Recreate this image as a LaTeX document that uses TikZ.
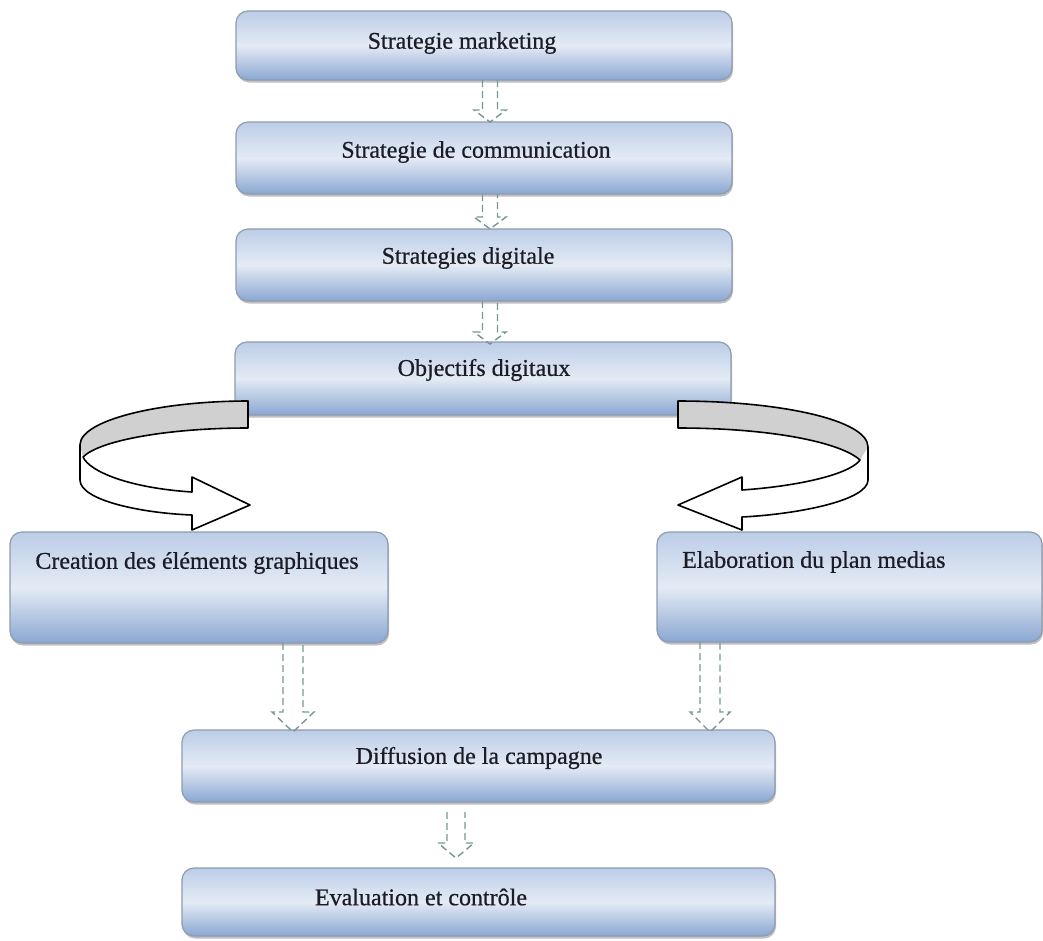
\documentclass[tikz,border=0pt]{standalone}
\usepackage{fontspec}
\setmainfont{Liberation Serif}
\newfontfamily\lblfont[FakeBold=0.6]{Liberation Serif}
\usetikzlibrary{calc,shadows}
\definecolor{boxtop}{HTML}{BCCDE7}
\definecolor{boxmid}{HTML}{E4EBF5}
\definecolor{boxbot}{HTML}{8AA7D2}
\definecolor{boxline}{HTML}{8E9BB0}
\definecolor{arrowcol}{HTML}{769893}
\definecolor{bandgray}{HTML}{D0D0D0}
\definecolor{txtcol}{HTML}{1C1C26}
\tikzset{
  box/.style={rectangle, rounded corners=12pt, draw=boxline, line width=1.2pt,
    top color=boxtop, bottom color=boxbot, middle color=boxmid,
    inner sep=0pt, outer sep=0pt,
    drop shadow={shadow xshift=1pt, shadow yshift=-2.5pt, fill=black!45, opacity=0.55}},
  lbl/.style={font=\lblfont\fontsize{24}{28}\selectfont, text=txtcol, inner sep=0pt},
  darrow/.style={draw=arrowcol, dash pattern=on 7pt off 4pt, line width=1.4pt, line join=miter},
  curvarrow/.style={draw=black, line width=1.6pt, line join=round},
}
\newcommand\hollowarrow[5]{%
  \draw[darrow] let \p1=#1, \p2=#2 in
    (\x1-#3,\y1) -- (\x1-#3,\y2+#5) -- (\x1-#4,\y2+#5) -- (\x1,\y2)
    -- (\x1+#4,\y2+#5) -- (\x1+#3,\y2+#5) -- (\x1+#3,\y1);}
\begin{document}
\begin{tikzpicture}[x=1pt,y=-1pt]
\useasboundingbox (0,0) rectangle (1043,940);
% boxes
\node[box, minimum width=496pt, minimum height=69pt] (b1) at (484,45.5) {};
\node[box, minimum width=496pt, minimum height=72pt] (b2) at (484,158) {};
\node[box, minimum width=496pt, minimum height=72pt] (b3) at (484,265) {};
\node[box, minimum width=496pt, minimum height=73pt] (b4) at (483,378.5) {};
\node[box, minimum width=378pt, minimum height=111pt] (b5) at (199,587.5) {};
\node[box, minimum width=385pt, minimum height=110pt] (b6) at (849.5,587) {};
\node[box, minimum width=593pt, minimum height=72pt] (b7) at (478.5,766) {};
\node[box, minimum width=593pt, minimum height=68pt] (b8) at (478.5,902) {};
% labels
\node[lbl] (t1) at (462,43) {Strategie marketing};
\node[lbl] (t2) at (476,152) {Strategie de communication};
\node[lbl] (t3) at (468,258) {Strategies digitale};
\node[lbl] (t4) at (484,370) {Objectifs digitaux};
\node[lbl] (t5) at (197,563) {Creation des éléments graphiques};
\node[lbl, anchor=west] (t6) at (682,562) {Elaboration du plan medias};
\node[lbl] (t7) at (479,758) {Diffusion de la campagne};
\node[lbl] (t8) at (421,897) {Evaluation et contrôle};
% curved arrow left
\fill[white] (248,401) .. controls (160,401) and (80,420) .. (80,445) -- (80,480)
  .. controls (80,500) and (140,513) .. (192,515) -- (192,530) -- (250,505) -- (192,477) -- (192,492)
  .. controls (130,488) and (90,472) .. (83,457) .. controls (100,440) and (170,428) .. (248,428) -- cycle;
\fill[bandgray] (248,401) .. controls (160,401) and (80,420) .. (80,445) -- (83,457)
  .. controls (100,440) and (170,428) .. (248,428) -- cycle;
\draw[curvarrow] (248,401) .. controls (160,401) and (80,420) .. (80,445) -- (80,480)
  .. controls (80,500) and (140,513) .. (192,515) -- (192,530) -- (250,505) -- (192,477) -- (192,492)
  .. controls (130,488) and (90,472) .. (83,457) .. controls (100,440) and (170,428) .. (248,428) -- cycle;
% curved arrow right
\fill[white] (678,401) .. controls (780,401) and (868,420) .. (868,447) -- (868,480)
  .. controls (868,500) and (800,514) .. (742,517) -- (742,530) -- (678,505) -- (742,477) -- (742,490)
  .. controls (800,486) and (850,474) .. (860,460) .. controls (840,442) and (770,428) .. (678,428) -- cycle;
\fill[bandgray] (678,401) .. controls (780,401) and (868,420) .. (868,447) -- (860,460)
  .. controls (840,442) and (770,428) .. (678,428) -- cycle;
\draw[curvarrow] (678,401) .. controls (780,401) and (868,420) .. (868,447) -- (868,480)
  .. controls (868,500) and (800,514) .. (742,517) -- (742,530) -- (678,505) -- (742,477) -- (742,490)
  .. controls (800,486) and (850,474) .. (860,460) .. controls (840,442) and (770,428) .. (678,428) -- cycle;
% dashed hollow arrows
\coordinate (cTop) at (490,0);
\coordinate (c57) at (293,0);
\coordinate (c67) at (710,0);
\coordinate (c78) at (456,0);
\hollowarrow{(b1.south -| cTop)}{(b2.north -| cTop)}{7.5pt}{16pt}{12pt}
\hollowarrow{(b2.south -| cTop)}{(b3.north -| cTop)}{7.5pt}{16pt}{12pt}
\hollowarrow{(b3.south -| cTop)}{($(b4.north -| cTop)+(0,2)$)}{7.5pt}{16pt}{12pt}
\hollowarrow{(b5.south -| c57)}{($(b7.north -| c57)+(0,2)$)}{10pt}{21pt}{20pt}
\hollowarrow{(b6.south -| c67)}{($(b7.north -| c67)+(0,2)$)}{10pt}{20pt}{20pt}
\hollowarrow{($(b7.south -| c78)+(0,10)$)}{($(b8.north -| c78)+(0,-10)$)}{9pt}{18pt}{15pt}
\end{tikzpicture}
\end{document}
